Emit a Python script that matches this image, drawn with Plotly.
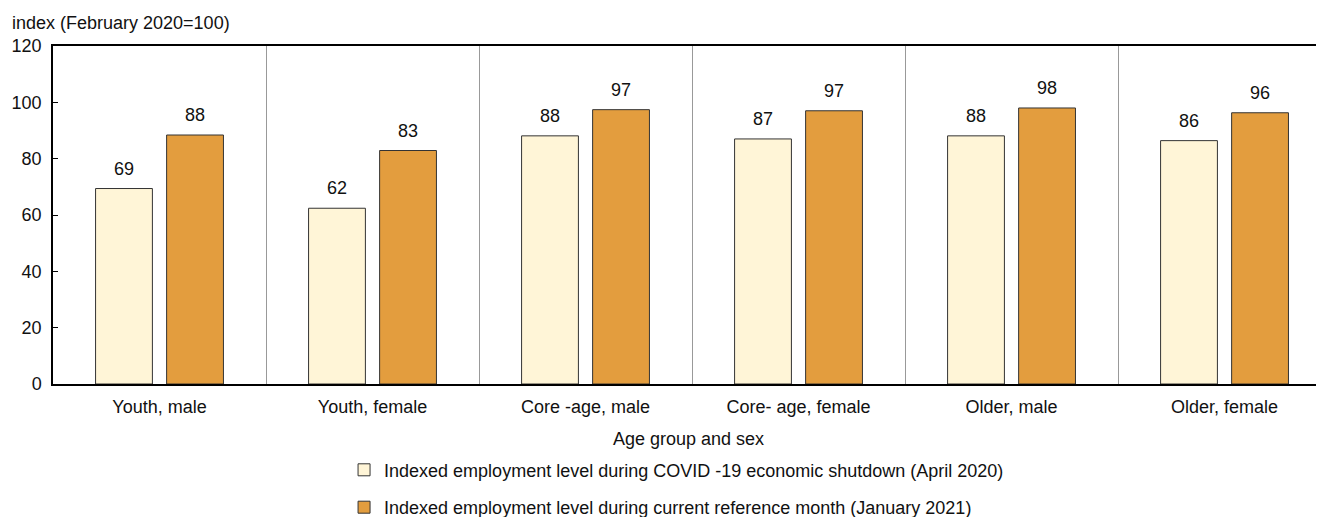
import plotly.graph_objects as go

categories = ["Youth, male", "Youth, female", "Core -age, male", "Core- age, female", "Older, male", "Older, female"]
april_2020 = [69.4, 62.4, 88.1, 87.0, 88.1, 86.4]
january_2021 = [88.4, 82.9, 97.4, 97.0, 98.0, 96.3]
series_names = [
    "Indexed employment level during COVID -19 economic shutdown (April 2020)",
    "Indexed employment level during current reference month (January 2021)",
]
y_ticks = [0, 20, 40, 60, 80, 100, 120]

FONT = "Liberation Sans, Arial, sans-serif"
FS = 18

fig = go.Figure()
series = [
    (series_names[0], april_2020, "#FFF5D7", "a"),
    (series_names[1], january_2021, "#E39D3E", "b"),
]
for name, vals, color, grp in series:
    fig.add_trace(go.Bar(
        x=categories, y=vals, name=name,
        marker=dict(color=color, line=dict(color="#333333", width=1)),
        legendgroup=grp, hoverinfo="x+y",
    ))

annotations = [dict(text="index (February 2020=100)", xref="paper", yref="paper",
                    x=0, y=1, xanchor="left", yanchor="bottom", xshift=-43, yshift=11,
                    showarrow=False, font=dict(size=FS))]
# value labels above each bar (slot width 71 px, offset +-35.5 px from category centre)
for i, (name, vals, color, grp) in enumerate(series):
    for cat, v in zip(categories, vals):
        annotations.append(dict(
            text=str(round(v)), x=cat, y=v, xref="x", yref="y",
            xshift=(i - 0.5) * 71, yshift=8, yanchor="bottom", xanchor="center",
            showarrow=False, font=dict(size=FS, color="#111111"),
        ))

fig.update_layout(
    width=1316, height=509,
    margin=dict(l=45, r=0, t=38, b=133, autoexpand=False),
    paper_bgcolor="white", plot_bgcolor="white",
    font=dict(family=FONT, size=FS, color="#111111"),
    barmode="group", bargap=0.333, bargroupgap=0.2,
    showlegend=True,
    legend=dict(orientation="v", x=0.4906, xanchor="center", y=-0.2, yanchor="top",
                traceorder="grouped", tracegroupgap=11, itemwidth=30,
                font=dict(size=FS), itemclick=False),
    annotations=annotations,
)
fig.update_xaxes(
    range=[-0.5, 5.467], showline=True, linecolor="black", linewidth=1.5, mirror=True,
    tickson="boundaries", showgrid=True, gridcolor="#999999", gridwidth=1, ticks="",
    ticklabelstandoff=6,
    title=dict(text="Age group and sex", standoff=16, font=dict(size=FS)),
    tickfont=dict(size=FS),
)
fig.update_yaxes(
    range=[0, 120], tickvals=y_ticks, showline=True, linecolor="black", linewidth=1.5,
    ticks="inside", ticklen=5, tickcolor="black", showgrid=False, zeroline=False,
    ticklabelstandoff=6, tickfont=dict(size=FS),
)
fig.write_html("out.html")
